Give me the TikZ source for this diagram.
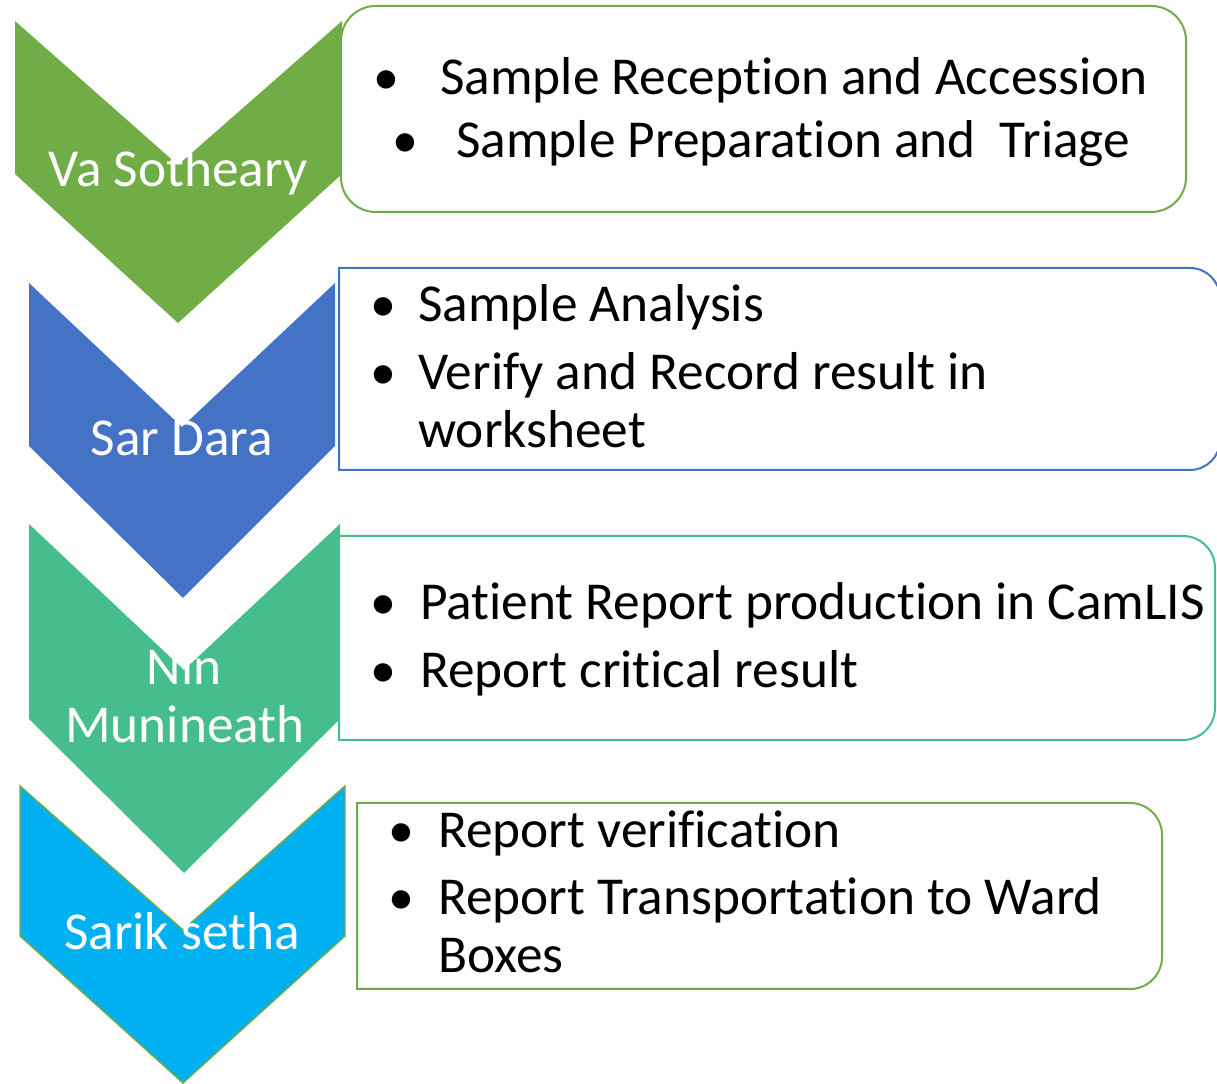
\documentclass[tikz,border=0pt]{standalone}
\usepackage{fontspec}
\setmainfont{Carlito}[Ligatures={NoCommon,NoContextual,NoRequired},Contextuals={NoAlternate}]
\definecolor{cgreen}{HTML}{70AD47}
\definecolor{cblue}{HTML}{4472C4}
\definecolor{cteal}{HTML}{46BD8D}
\definecolor{ccyan}{HTML}{00B0F0}
\begin{document}
\begin{tikzpicture}[x=0.75pt,y=0.75pt,
  chevlbl/.style={text=white,font=\fontsize{40}{44}\selectfont,anchor=base,inner sep=0pt},
  itemtxt/.style={text=black,font=\fontsize{40}{44}\selectfont,anchor=base west,inner sep=0pt},
  bulletmk/.style={text=black,font=\fontsize{39}{44}\selectfont,anchor=base,inner sep=0pt},
  boxline/.style={line width=1.5pt,fill=white}]
\useasboundingbox (0,0) rectangle (1217,1084);
% chevrons
\fill[cgreen] (15,1063) -- (178,919) -- (342,1063) -- (342,910) -- (178,761) -- (15,910) -- cycle;
\fill[cblue] (29,801) -- (182,657) -- (335,801) -- (335,638) -- (183,486) -- (29,638) -- cycle;
\fill[cteal] (29,560) -- (184,414) -- (340,560) -- (340,365) -- (184,211) -- (29,365) -- cycle;
\filldraw[fill=ccyan,draw=cgreen,line width=1.1pt] (20,298) -- (183,154) -- (345,298) -- (345,148) -- (183,1) -- (20,148) -- cycle;
% chevron labels
\node[chevlbl] (l1) at (178,897) {Va Sotheary};
\node[chevlbl] (l2) at (182,628) {Sar Dara};
\node[chevlbl] (l3a) at (184,399) {Nin};
\node[chevlbl] (l3b) at (185,341) {Munineath};
\node[chevlbl] (l4) at (182,134) {Sarik setha};
% boxes
\draw[boxline,draw=cgreen,rounded corners=26pt] (341,872) rectangle (1186,1078);
\draw[boxline,draw=cblue] (339,614) -- (339,816) -- (1190,816) arc[start angle=90,end angle=0,radius=22.5pt] -- (1220,644) arc[start angle=0,end angle=-90,radius=22.5pt] -- cycle;
\draw[boxline,draw=cteal] (339,344) -- (339,548) -- (1183,548) arc[start angle=90,end angle=0,radius=24pt] -- (1215,376) arc[start angle=0,end angle=-90,radius=24pt] -- cycle;
\draw[boxline,draw=cgreen] (357,95) -- (357,281) -- (1130,281) arc[start angle=90,end angle=0,radius=24pt] -- (1162,127) arc[start angle=0,end angle=-90,radius=24pt] -- cycle;
% box 1 text
\node[bulletmk] (b1a) at (386,989) {\textbullet};
\node[itemtxt] (t1a) at (440,989) {Sample Reception and Accession};
\node[bulletmk] (b1b) at (405,926) {\textbullet};
\node[itemtxt] (t1b) at (456,926) {Sample Preparation and\ \ Triage};
% box 2 text
\node[bulletmk] (b2a) at (383,762) {\textbullet};
\node[itemtxt] (t2a) at (418,762) {Sample Analysis};
\node[bulletmk] (b2b) at (383,694) {\textbullet};
\node[itemtxt] (t2b) at (418,694) {Verify and Record result in};
\node[itemtxt] (t2c) at (418,636) {worksheet};
% box 3 text
\node[bulletmk] (b3a) at (383,464) {\textbullet};
\node[itemtxt] (t3a) at (420,464) {Patient Report production in CamLIS};
\node[bulletmk] (b3b) at (383,396) {\textbullet};
\node[itemtxt] (t3b) at (420,396) {Report critical result};
% box 4 text
\node[bulletmk] (b4a) at (401,236) {\textbullet};
\node[itemtxt] (t4a) at (438,236) {Report verification};
\node[bulletmk] (b4b) at (401,169) {\textbullet};
\node[itemtxt] (t4b) at (438,169) {Report Transportation to Ward};
\node[itemtxt] (t4c) at (438,111) {Boxes};
\end{tikzpicture}
\end{document}
